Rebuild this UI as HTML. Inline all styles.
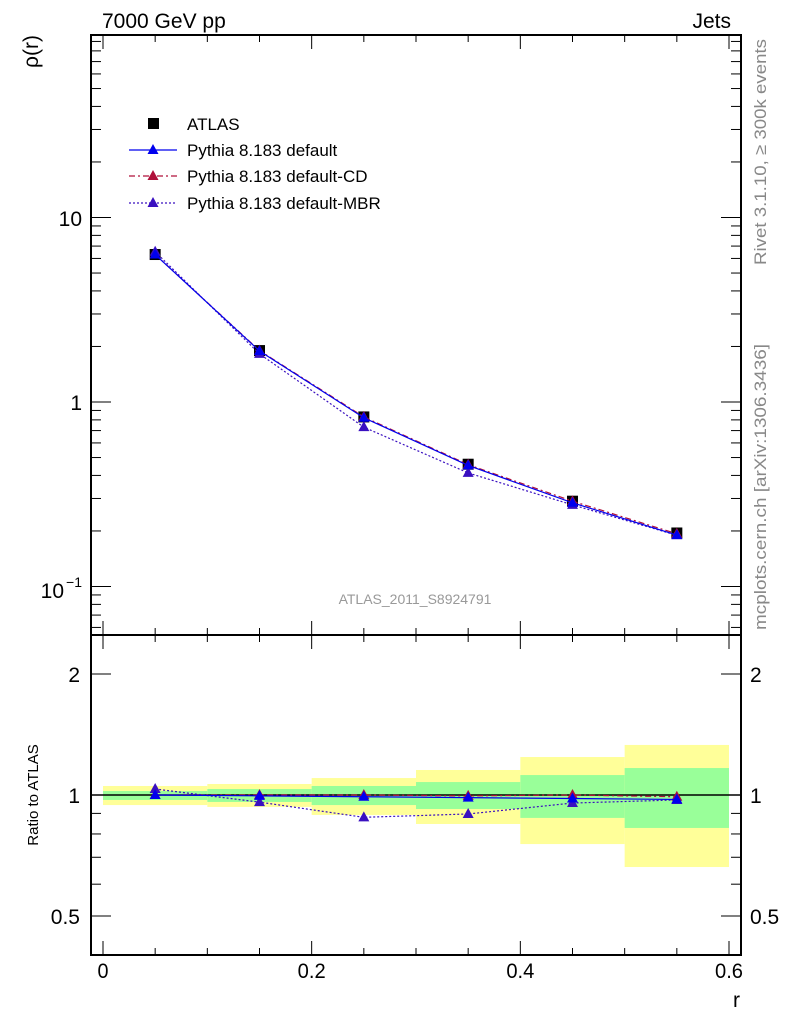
<!DOCTYPE html>
<html><head><meta charset="utf-8"><style>
html,body{margin:0;padding:0;background:#fff;}
svg{display:block;font-family:"Liberation Sans",sans-serif;}
</style></head><body>
<svg id="c" width="786" height="1024" viewBox="0 0 786 1024"></svg>
<script>
const xCenters=[0.05,0.15,0.25,0.35,0.45,0.55];
const binEdges=[0,0.1,0.2,0.3,0.4,0.5,0.6];
const atlas=[6.3,1.9,0.83,0.46,0.29,0.195];
const ratioDefault=[1.0,0.995,0.99,0.985,0.98,0.975];
const ratioCD=[1.0,1.0,1.0,0.995,1.0,0.99];
const ratioMBR=[1.035,0.96,0.88,0.897,0.955,0.972];
const yellowHi=[1.053,1.065,1.102,1.154,1.243,1.332];
const yellowLo=[0.944,0.934,0.892,0.847,0.755,0.662];
const greenHi=[1.023,1.035,1.053,1.077,1.121,1.167];
const greenLo=[0.972,0.961,0.944,0.923,0.877,0.828];
const xTicks=[0,0.2,0.4,0.6];
const xTickLabels=["0","0.2","0.4","0.6"];

const NS="http://www.w3.org/2000/svg",svg=document.getElementById('c');
const L=91,R=741,T=35,M=635,B=955;
const X=v=>103+(729-103)*v/0.6;
const Ym=v=>402-184.5*Math.log10(v);
const Yr=v=>795-402*Math.log10(v);
function el(t,a,p){const e=document.createElementNS(NS,t);for(const k in a)e.setAttribute(k,a[k]);(p||svg).appendChild(e);return e;}
function txt(s,a){const e=el('text',a);e.textContent=s;return e;}
const dflt=ratioDefault.map((r,i)=>r*atlas[i]),cd=ratioCD.map((r,i)=>r*atlas[i]),mbr=ratioMBR.map((r,i)=>r*atlas[i]);

for(let i=0;i<6;i++){
 let y=el('rect',{x:X(binEdges[i]),y:Yr(yellowHi[i]),width:X(binEdges[i+1])-X(binEdges[i]),height:Yr(yellowLo[i])-Yr(yellowHi[i]),fill:'#ffff99'});
 
 let g=el('rect',{x:X(binEdges[i]),y:Yr(greenHi[i]),width:X(binEdges[i+1])-X(binEdges[i]),height:Yr(greenLo[i])-Yr(greenHi[i]),fill:'#99ff99'});
 
}
el('line',{x1:L,x2:R,y1:Yr(1),y2:Yr(1),stroke:'#000','stroke-width':1.5});

function series(vals,Y,color,dash,name){
 const p=el('polyline',{points:vals.map((v,i)=>X(xCenters[i])+','+Y(v)).join(' '),fill:'none',stroke:color,'stroke-width':1.2,'stroke-dasharray':dash});
 
 vals.forEach((v,i)=>{const x=X(xCenters[i]),y=Y(v);
  const t=el('polygon',{points:`${x},${y-6} ${x-5.5},${y+4} ${x+5.5},${y+4}`,fill:color});
  });
}
atlas.forEach((v,i)=>{const x=X(xCenters[i]),y=Ym(v);
 const s=el('rect',{x:x-5.5,y:y-5.5,width:11,height:11,fill:'#000'});
 });
series(cd,Ym,'#b0103a','6,3,2,3','cd');
series(mbr,Ym,'#3a10c0','2,2','mbr');
series(dflt,Ym,'#0000ee','','default');
series(ratioCD,Yr,'#b0103a','6,3,2,3','ratio-cd');
series(ratioMBR,Yr,'#3a10c0','2,2','ratio-mbr');
series(ratioDefault,Yr,'#0000ee','','ratio-default');

el('rect',{x:L,y:T,width:R-L,height:M-T,fill:'none',stroke:'#000','stroke-width':2});
el('rect',{x:L,y:M,width:R-L,height:B-M,fill:'none',stroke:'#000','stroke-width':2});
for(let k=0;k<=12;k++){const v=k*0.05,x=X(v),len=(k%4==0)?14:7;
 [[T,1],[M,-1],[M,1],[B,-1]].forEach(([y0,d])=>el('line',{x1:x,x2:x,y1:y0,y2:y0+d*len,stroke:'#000','stroke-width':1}));}
xTicks.forEach((v,i)=>{const t=txt(xTickLabels[i],{x:X(v),y:978,'font-size':21,'text-anchor':'middle',textLength:xTickLabels[i].length>1?28:11,lengthAdjust:'spacingAndGlyphs'});});
for(let d=-2;d<=1;d++)for(let m=1;m<=9;m++){const v=m*Math.pow(10,d);const y=Ym(v);if(y<T||y>M)continue;const len=m==1?20:10;
 el('line',{x1:L,x2:L+len,y1:y,y2:y,stroke:'#000'});el('line',{x1:R,x2:R-len,y1:y,y2:y,stroke:'#000'});}
txt('10',{x:82,y:226,'font-size':21,'text-anchor':'end'});
txt('1',{x:82,y:410,'font-size':21,'text-anchor':'end'});
txt('10',{x:64,y:598,'font-size':21,'text-anchor':'end'});
txt('−1',{x:82,y:587,'font-size':14,'text-anchor':'end'});
[0.5,0.6,0.7,0.8,0.9,1,2].forEach(v=>{const y=Yr(v);const len=(v==0.5||v==1||v==2)?20:10;
 el('line',{x1:L,x2:L+len,y1:y,y2:y,stroke:'#000'});el('line',{x1:R,x2:R-len,y1:y,y2:y,stroke:'#000'});});
[[2,'2'],[1,'1'],[0.5,'0.5']].forEach(([v,s])=>{txt(s,{x:80,y:Yr(v)+8,'font-size':21,'text-anchor':'end'});txt(s,{x:750,y:Yr(v)+8,'font-size':21});});
txt('7000 GeV pp',{x:102,y:28,'font-size':21});
txt('Jets',{x:731,y:28,'font-size':21,'text-anchor':'end'});
txt('ρ(r)',{x:0,y:0,'font-size':21,'text-anchor':'end',transform:'translate(38,35) rotate(-90)'});
txt('Ratio to ATLAS',{x:0,y:0,'font-size':15,'text-anchor':'middle',transform:'translate(38,795) rotate(-90)'});
txt('r',{x:740,y:1007,'font-size':21,'text-anchor':'end'});
txt('ATLAS_2011_S8924791',{x:415,y:604,'font-size':14,'text-anchor':'middle',fill:'#999'});
txt('Rivet 3.1.10, ≥ 300k events',{x:0,y:0,'font-size':17,fill:'#888','text-anchor':'middle',transform:'translate(766,152) rotate(-90)',textLength:226,lengthAdjust:'spacingAndGlyphs'});
txt('mcplots.cern.ch [arXiv:1306.3436]',{x:0,y:0,'font-size':17,fill:'#888','text-anchor':'middle',transform:'translate(766,487) rotate(-90)',textLength:286,lengthAdjust:'spacingAndGlyphs'});
el('rect',{x:148,y:118,width:11,height:11,fill:'#000'});
txt('ATLAS',{x:187,y:130,'font-size':17});
[['Pythia 8.183 default','#0000ee','',150],['Pythia 8.183 default-CD','#b0103a','6,3,2,3',176],['Pythia 8.183 default-MBR','#3a10c0','2,2',203]].forEach(([s,c,d,y])=>{
 el('line',{x1:129,x2:177,y1:y,y2:y,stroke:c,'stroke-dasharray':d,'stroke-width':1.2});
 el('polygon',{points:`153,${y-6} 147.5,${y+4} 158.5,${y+4}`,fill:c});
 const t=txt(s,{x:187,y:y+6,'font-size':17});});
</script>
</body></html>
